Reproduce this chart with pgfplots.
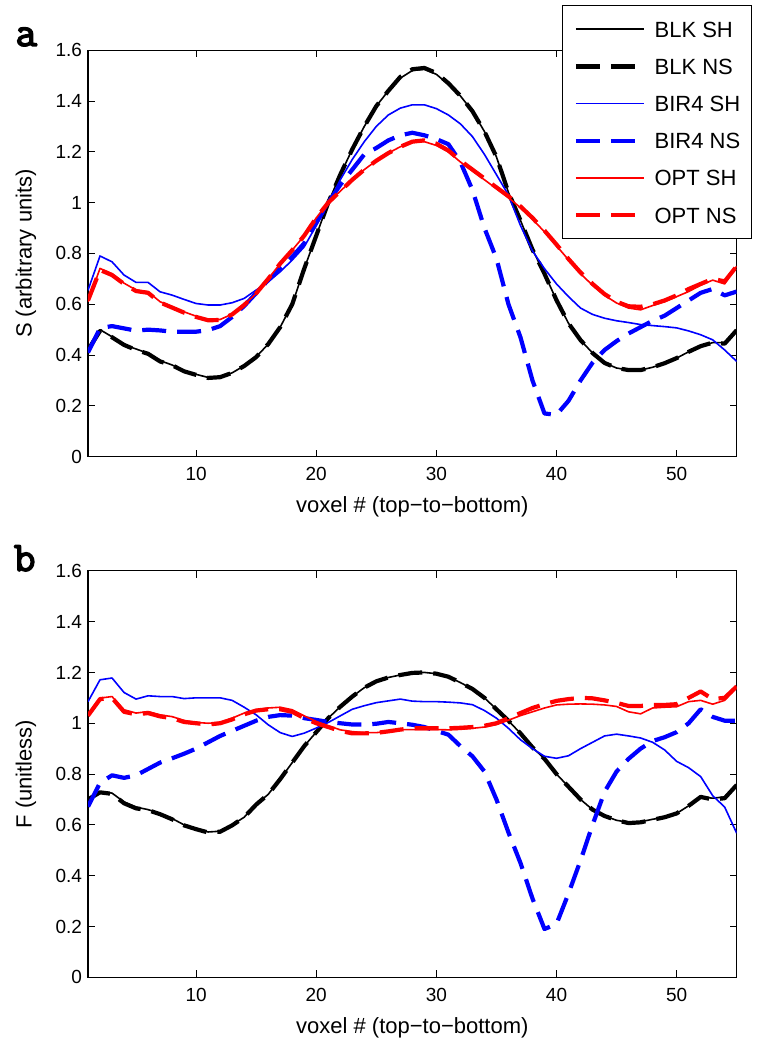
\documentclass[border=0pt]{standalone}
\usepackage{fontspec}
\setmainfont{Liberation Sans}
\newfontfamily\panelfont{Latin Modern Mono}[FakeBold=3.5]
\usepackage{pgfplots}
\usepackage{pgfplotstable}
\pgfplotsset{compat=1.18}

\pgfplotstableread{
v a b c d e f
1 0.42 0.42 0.655 0.41 0.61 0.615
2 0.50 0.495 0.79 0.506 0.741 0.735
3 0.472 0.47 0.767 0.514 0.72 0.715
4 0.44 0.44 0.715 0.505 0.683 0.68
5 0.424 0.42 0.686 0.496 0.656 0.652
6 0.407 0.405 0.686 0.50 0.649 0.645
7 0.378 0.375 0.649 0.497 0.61 0.607
8 0.361 0.36 0.636 0.492 0.59 0.587
9 0.338 0.336 0.619 0.492 0.57 0.567
10 0.324 0.322 0.603 0.492 0.553 0.55
11 0.312 0.31 0.597 0.498 0.54 0.537
12 0.315 0.313 0.597 0.514 0.54 0.538
13 0.33 0.33 0.606 0.55 0.561 0.56
14 0.358 0.357 0.623 0.593 0.597 0.597
15 0.393 0.392 0.656 0.644 0.643 0.643
16 0.443 0.443 0.688 0.695 0.70 0.70
17 0.51 0.51 0.728 0.742 0.76 0.76
18 0.60 0.60 0.774 0.787 0.813 0.813
19 0.74 0.74 0.826 0.84 0.87 0.87
20 0.87 0.87 0.91 0.92 0.94 0.94
21 1.0 1.0 0.995 1.0 1.0 1.0
22 1.11 1.11 1.09 1.07 1.045 1.045
23 1.21 1.21 1.17 1.13 1.09 1.09
24 1.30 1.30 1.24 1.19 1.13 1.13
25 1.38 1.38 1.30 1.215 1.165 1.165
26 1.44 1.44 1.345 1.245 1.195 1.195
27 1.49 1.495 1.372 1.265 1.22 1.22
28 1.52 1.525 1.385 1.275 1.24 1.24
29 1.525 1.53 1.385 1.265 1.24 1.245
30 1.505 1.51 1.37 1.25 1.225 1.232
31 1.465 1.47 1.345 1.23 1.20 1.205
32 1.42 1.42 1.31 1.16 1.16 1.165
33 1.36 1.36 1.26 1.05 1.125 1.13
34 1.28 1.28 1.19 0.90 1.09 1.095
35 1.18 1.18 1.11 0.78 1.055 1.06
36 1.04 1.04 1.03 0.60 1.02 1.025
37 0.93 0.93 0.91 0.47 0.98 0.985
38 0.815 0.815 0.81 0.30 0.935 0.94
39 0.72 0.72 0.74 0.17 0.885 0.89
40 0.616 0.616 0.68 0.165 0.83 0.835
41 0.525 0.525 0.63 0.22 0.775 0.778
42 0.459 0.459 0.585 0.30 0.72 0.725
43 0.408 0.408 0.56 0.37 0.675 0.68
44 0.369 0.369 0.545 0.42 0.635 0.64
45 0.349 0.349 0.535 0.455 0.605 0.61
46 0.341 0.341 0.528 0.485 0.585 0.592
47 0.341 0.341 0.52 0.51 0.578 0.59
48 0.352 0.352 0.516 0.535 0.595 0.60
49 0.368 0.368 0.512 0.555 0.61 0.615
50 0.388 0.388 0.507 0.585 0.63 0.635
51 0.413 0.413 0.495 0.615 0.65 0.66
52 0.435 0.435 0.48 0.645 0.675 0.68
53 0.449 0.449 0.46 0.66 0.695 0.70
54 0.449 0.445 0.42 0.635 0.68 0.69
55 0.498 0.498 0.375 0.65 0.75 0.75
}\topdata

\pgfplotstableread{
v a b c d e f
1 0.70 0.70 1.085 0.672 1.029 1.03
2 0.73 0.728 1.171 0.765 1.099 1.095
3 0.725 0.722 1.178 0.795 1.105 1.1
4 0.69 0.685 1.121 0.785 1.053 1.045
5 0.67 0.665 1.095 0.795 1.04 1.035
6 0.66 0.658 1.108 0.82 1.046 1.04
7 0.645 0.642 1.105 0.845 1.033 1.027
8 0.625 0.622 1.105 0.862 1.026 1.02
9 0.60 0.598 1.097 0.88 1.011 1.005
10 0.585 0.583 1.10 0.90 1.003 1.0
11 0.572 0.57 1.10 0.925 1.0 0.995
12 0.575 0.573 1.10 0.95 1.003 1.0
13 0.60 0.598 1.09 0.97 1.02 1.015
14 0.63 0.63 1.063 0.99 1.04 1.035
15 0.68 0.68 1.033 1.01 1.053 1.05
16 0.72 0.72 0.994 1.025 1.06 1.055
17 0.78 0.78 0.963 1.032 1.063 1.055
18 0.845 0.845 0.948 1.03 1.053 1.045
19 0.91 0.91 0.961 1.02 1.029 1.02
20 0.965 0.965 0.981 1.013 1.007 1.0
21 1.02 1.02 1.003 1.005 0.99 0.985
22 1.065 1.065 1.029 1.0 0.974 0.97
23 1.105 1.105 1.055 0.995 0.967 0.96
24 1.14 1.14 1.069 0.995 0.963 0.96
25 1.165 1.165 1.081 0.998 0.963 0.962
26 1.18 1.18 1.088 1.005 0.968 0.968
27 1.19 1.19 1.095 1.0 0.975 0.975
28 1.198 1.198 1.087 0.994 0.975 0.98
29 1.2 1.2 1.085 0.985 0.975 0.98
30 1.195 1.195 1.085 0.97 0.975 0.98
31 1.183 1.183 1.083 0.955 0.974 0.98
32 1.16 1.16 1.08 0.91 0.976 0.982
33 1.135 1.135 1.073 0.87 0.98 0.985
34 1.1 1.1 1.05 0.81 0.985 0.99
35 1.055 1.055 1.02 0.70 0.995 1.0
36 1.01 1.01 0.98 0.57 1.012 1.02
37 0.96 0.96 0.935 0.45 1.03 1.04
38 0.905 0.905 0.90 0.31 1.045 1.06
39 0.86 0.86 0.87 0.19 1.06 1.075
40 0.80 0.80 0.862 0.21 1.072 1.088
41 0.75 0.75 0.872 0.33 1.075 1.095
42 0.70 0.70 0.90 0.46 1.076 1.10
43 0.66 0.66 0.925 0.60 1.075 1.098
44 0.635 0.635 0.95 0.73 1.072 1.09
45 0.618 0.618 0.957 0.81 1.066 1.08
46 0.61 0.607 0.95 0.86 1.045 1.068
47 0.612 0.61 0.942 0.90 1.037 1.068
48 0.622 0.62 0.925 0.93 1.06 1.072
49 0.63 0.63 0.895 0.945 1.063 1.072
50 0.645 0.645 0.85 0.965 1.065 1.075
51 0.675 0.675 0.825 1.0 1.085 1.1
52 0.71 0.71 0.79 1.055 1.09 1.125
53 0.705 0.70 0.715 1.025 1.075 1.095
54 0.71 0.705 0.67 1.01 1.09 1.1
55 0.757 0.757 0.567 1.01 1.14 1.145
}\botdata

\pgfplotsset{
  sh/.style={line width=1.6pt, solid, line join=round},
  ns/.style={line width=4.2pt, dash pattern=on 24pt off 11pt, line join=round},
  myax/.style={
    scale only axis, width=648.7pt, height=406.5pt,
    xmin=1, xmax=55, ymin=0, ymax=1.6,
    xtick={10,20,30,40,50},
    ytick={0,0.2,0.4,0.6,0.8,1,1.2,1.4,1.6},
    tick align=inside, major tick length=7pt,
    tick style={black, line width=1pt},
    axis line style={line width=1.2pt},
    /pgf/number format/assume math mode=true,
    ticklabel style={font=\fontsize{19}{22}\selectfont},
    xticklabel style={yshift=-7pt},
    yticklabel style={xshift=-2.5pt},
    every axis x label/.style={at={(axis description cs:0.5,0)}, anchor=base, yshift=-56pt, font=\fontsize{22}{26}\selectfont},
    every axis y label/.style={at={(axis description cs:-0.0956,0.5)}, rotate=90, anchor=center, font=\fontsize{22}{26}\selectfont},
    xlabel={voxel \# (top−to−bottom)},
  },
}

\begin{document}
\begin{tikzpicture}[x=1pt,y=1pt]
\path[use as bounding box] (0pt,0pt) rectangle (762pt,1050pt);

\begin{axis}[myax, at={(88pt,593.3pt)}, anchor=south west,
  ylabel={S (arbitrary units)},
  legend cell align=left,
  legend image code/.code={\draw[#1] (0pt,0pt) -- (68pt,0pt);},
  legend style={at={(axis description cs:1,1)}, anchor=north east,
    xshift=15.6pt, yshift=45pt, draw=black, line width=1.2pt, fill=white,
    inner xsep=11.5pt, inner ysep=15.6pt, row sep=21.5pt, column sep=8.7pt,
    font=\fontsize{22}{26}\selectfont,
    nodes={inner sep=0pt, text height=15.7pt, text depth=0pt}},
]
\addplot[black, sh] table[x=v,y=a] {\topdata};
\addlegendentry{BLK SH}
\addplot[black, ns] table[x=v,y=b] {\topdata};
\addlegendentry{BLK NS}
\addplot[blue, sh] table[x=v,y=c] {\topdata};
\addlegendentry{BIR4 SH}
\addplot[blue, ns] table[x=v,y=d] {\topdata};
\addlegendentry{BIR4 NS}
\addplot[red, sh] table[x=v,y=e] {\topdata};
\addlegendentry{OPT SH}
\addplot[red, ns] table[x=v,y=f] {\topdata};
\addlegendentry{OPT NS}
\end{axis}

\begin{axis}[myax, at={(88pt,72.7pt)}, anchor=south west,
  ylabel={F (unitless)},
]
\addplot[black, sh] table[x=v,y=a] {\botdata};
\addplot[black, ns] table[x=v,y=b] {\botdata};
\addplot[blue, sh] table[x=v,y=c] {\botdata};
\addplot[blue, ns] table[x=v,y=d] {\botdata};
\addplot[red, sh] table[x=v,y=e] {\botdata};
\addplot[red, ns] table[x=v,y=f] {\botdata};
\end{axis}

\node[anchor=base, font=\panelfont\fontsize{42}{46}\selectfont] at (26.3pt,1004pt) {a};
\node[anchor=base, font=\panelfont\fontsize{42}{46}\selectfont] at (24.7pt,479pt) {b};
\end{tikzpicture}
\end{document}
